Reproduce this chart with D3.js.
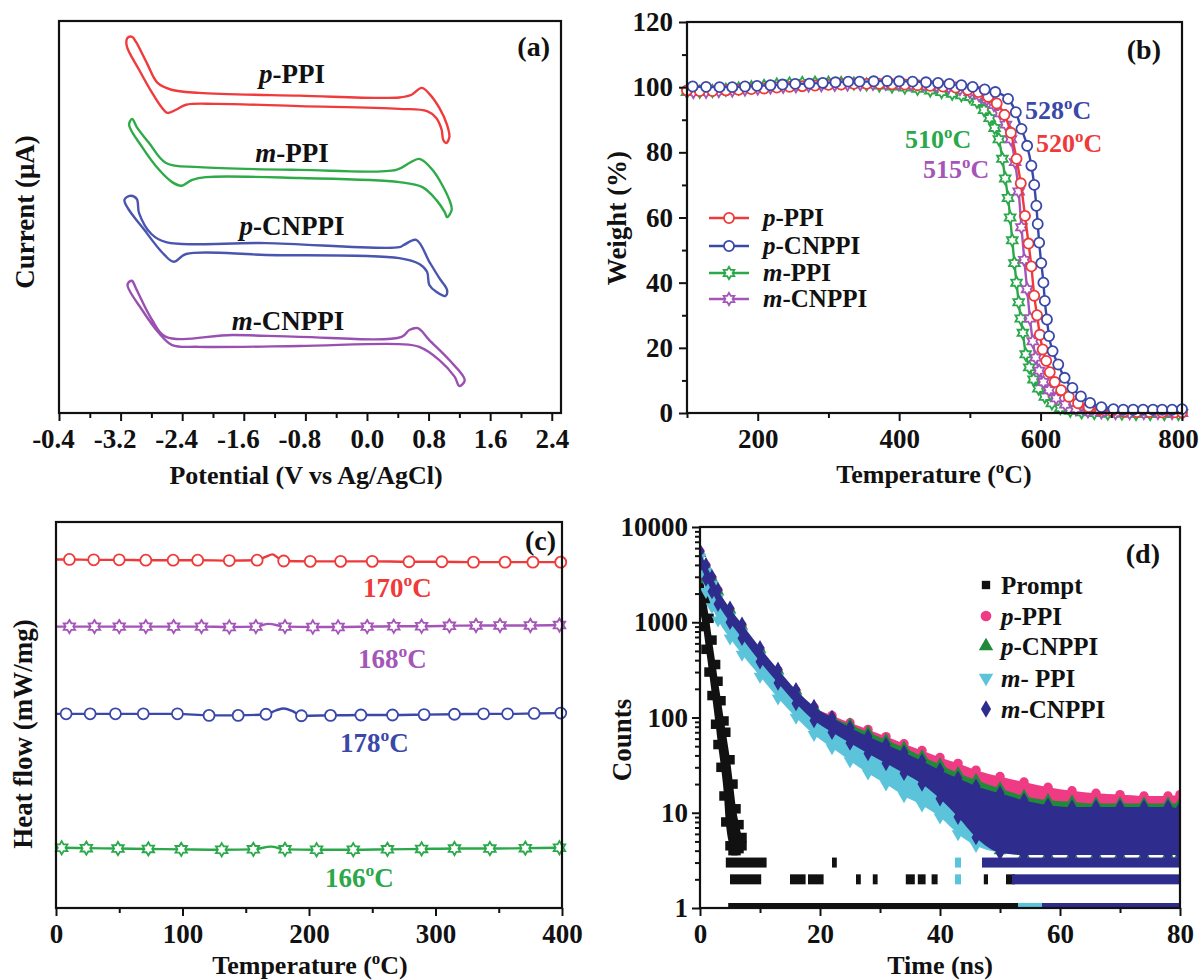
<!DOCTYPE html>
<meta charset="utf-8">
<script src="https://d3js.org/d3.v7.min.js"></script>
<style>
  body { margin: 0; background: #fff; }
  text { font-family: "Liberation Serif", "Times New Roman", serif; font-weight: bold; fill: #111; }
</style>
<div id="figure"></div>
<script>
// ---------- (a) cyclic voltammograms: [potential (V), current (a.u., stacked)]
const cvNames = ["*p*-PPI", "*m*-PPI", "*p*-CNPPI", "*m*-CNPPI"];
const cvColors = ["#f03a3c", "#2eaa48", "#4a55b0", "#9a50b0"];
const cvPPI = [[-3.11,96.5],[-3.12,94.7],[-2.96,89.5],[-2.79,84.4],[-2.67,81.3],[-2.59,80.0],[-2.48,80.7],[-2.35,81.8],[-1.96,82.0],[-0.88,81.5],[0.42,80.9],[0.78,80.4],[0.90,78.9],[0.97,76.3],[0.99,74.1],[1.03,73.4],[1.07,74.7],[1.04,77.4],[0.94,81.1],[0.81,84.2],[0.71,85.5],[0.58,84.0],[0.42,83.4],[-0.88,83.8],[-2.18,84.4],[-2.54,85.1],[-2.72,86.6],[-2.86,91.0],[-3.00,95.6],[-3.05,96.7]];
const cvMPPI = [[-3.05,78.7],[-3.09,77.4],[-2.92,72.5],[-2.70,67.5],[-2.53,64.8],[-2.41,64.0],[-2.27,65.3],[-2.09,65.9],[-0.88,65.7],[0.42,64.8],[0.72,63.7],[0.90,60.9],[1.01,58.2],[1.04,57.1],[1.10,58.7],[1.07,60.9],[0.85,67.5],[0.68,69.9],[0.55,69.0],[0.38,67.5],[-0.88,67.5],[-2.18,68.1],[-2.61,69.0],[-2.83,73.4],[-2.99,76.9]];
const cvPCN = [[-3.15,60.9],[-2.86,53.6],[-2.63,48.8],[-2.51,47.3],[-2.35,49.0],[-1.31,48.8],[0.42,48.1],[0.68,46.8],[0.78,45.1],[0.81,42.2],[0.90,40.7],[1.02,39.8],[1.04,41.1],[0.94,43.7],[0.81,47.3],[0.64,52.1],[0.48,51.0],[0.42,50.5],[-1.31,51.4],[-2.61,51.6],[-2.80,53.4],[-2.96,58.0],[-2.99,61.1],[-3.07,61.8]];
const cvMCN = [[-3.07,43.1],[-3.11,42.2],[-2.92,36.7],[-2.70,31.6],[-2.53,29.0],[-2.18,28.6],[-0.88,28.8],[0.42,29.2],[0.68,28.6],[0.94,25.7],[1.14,22.0],[1.20,20.0],[1.27,21.3],[1.07,25.7],[0.81,30.1],[0.66,32.7],[0.55,32.3],[0.45,30.8],[-0.88,30.8],[-1.75,31.2],[-2.61,30.8],[-2.79,34.5],[-2.99,41.1],[-3.05,43.1]];
const cvTicks = [-4.0, -3.2, -2.4, -1.6, -0.8, 0.0, 0.8, 1.6, 2.4];
const cvTickLabels = ["-0.4", "-3.2", "-2.4", "-1.6", "-0.8", "0.0", "0.8", "1.6", "2.4"];

// ---------- (b) TGA: temperature (C), weight (%)
const tgaNames = ["*p*-PPI", "*p*-CNPPI", "*m*-PPI", "*m*-CNPPI"];
const tgaColors = ["#ef3a3a", "#3a48a8", "#2aa84a", "#a555b8"];
const tgaT_pPPI = [100,118,136,155,173,191,209,227,245,263,281,300,318,336,354,372,390,408,426,444,462,480,497,512,526,538,549,558,566,572,578,583,587,591,595,599,603,608,613,620,629,640,653,668,684,701,718,736,754,772,790,800];
const tgaW_pPPI = [99,98.8,98.8,99,99.2,99.4,99.6,99.9,100.1,100.3,100.5,100.7,100.8,101,101,101,100.9,100.8,100.6,100.4,100.2,99.9,99.2,98.5,97,95,91.5,86,78,70.5,60.5,52,45,36,30,24,19.5,16,12.5,9.5,7,5,3,1.8,1,0.6,0.4,0.3,0.3,0.2,0.2,0.2];
const tgaT_pCN = [108,127,146,164,182,199,218,235,253,273,292,310,328,344,364,383,400,419,438,455,471,488,504,521,536,554,565,573,581,587,591,594,596,598,601,604,606,609,612,617,625,634,645,657,670,686,703,717,731,745,759,772,786,800];
const tgaW_pCN = [100.2,100.1,100,100,100.2,100.4,100.6,100.8,101,101.1,101.3,101.5,101.7,101.7,101.8,101.9,101.8,101.7,101.5,101.3,101,100.6,100.1,99.3,98.5,96.4,92.3,87.2,82,75.9,70,63.6,58,52.3,46,40,34.4,28.7,23.6,19,14.9,10.8,7.7,5.1,3.1,1.8,1.2,1,1,1,1,1,1,1.2];
const tgaT_mPPI = [100,118,136,155,173,191,209,227,245,263,281,300,318,336,354,372,390,408,426,444,460,475,488,500,510,520,528,535,541,546,550,554,557,560,563,566,569,572,575,579,584,590,597,606,616,628,642,658,676,695,715,735,755,775,795];
const tgaW_mPPI = [98.5,98.6,98.8,99.2,99.6,100,100.4,100.8,101.1,101.3,101.4,101.4,101.3,101.1,100.8,100.5,100.2,99.9,99.5,99,98.5,98,97.5,97,95.5,93,90.5,87.5,84,78,72,66,60,53,46,40,34,29,24.6,18,14,10.3,7.5,5,3,1.5,0.7,0.2,0,-0.2,-0.2,-0.3,-0.3,-0.3,-0.3];
const tgaT_mCN = [109,127,145,164,182,200,218,236,254,272,290,309,327,345,363,381,399,417,435,453,470,486,500,513,524,534,543,551,558,564,569,573,577,581,585,589,593,598,604,612,622,635,650,667,686,706,726,746,766,786,800];
const tgaW_mCN = [98.5,98.6,98.8,99,99.3,99.6,99.9,100.1,100.3,100.5,100.6,100.7,100.8,100.9,101,101,101,100.9,100.7,100.4,100,99.4,98.5,97.5,96.2,94.5,92,88.5,84,77,68,57,47,38,29,22,17,13,9.5,7,4.5,2.6,1.2,0.5,0.2,0,0,0,0,0,0];
const tgaNotes = ["528^oC", "520^oC", "510^oC", "515^oC"];

// ---------- (c) DSC: [temperature (C), heat flow (a.u., stacked), marker?]
const dscNotes = ["170^oC", "168^oC", "178^oC", "166^oC"];
const dscColors = ["#ef3a3a", "#a555b8", "#3a48a8", "#2aa84a"];
const dscPPI = [[0,90.3,0],[10.6,90.3,1],[29.8,90.2,1],[50,90.2,1],[71,90.1,1],[92.6,90.1,1],[112,90.1,1],[137,90.0,1],[159,90.1,1],[166,91.0,0],[171,91.6,0],[176,90.6,0],[180,89.9,1],[201,89.8,1],[225,89.8,1],[250,89.8,1],[279,89.7,1],[305,89.7,1],[330,89.6,1],[355,89.6,1],[377,89.6,1],[399,89.6,1]];
const dscMCN = [[0,72.9,0],[10.6,72.9,1],[30.4,72.9,1],[50,72.9,1],[71,72.9,1],[93,72.9,1],[115,72.9,1],[137,72.8,1],[158,72.9,1],[168,73.6,0],[181,72.9,1],[203,72.8,1],[223,72.8,1],[246,72.9,1],[267,73,1],[289,73,1],[311,73.1,1],[332,73.2,1],[351,73.2,1],[375,73.2,1],[398,73.3,1]];
const dscPCN = [[0,50.3,0],[8,50.3,1],[27,50.3,1],[47,50.3,1],[69,50.3,1],[96,50.3,1],[121,49.9,1],[144,49.9,1],[166,50.2,1],[174,51.2,0],[180,51.7,0],[187,51.0,0],[194,49.8,1],[217,49.9,1],[241,50,1],[266,50,1],[291,50.1,1],[315,50.2,1],[338,50.3,1],[357,50.3,1],[378,50.4,1],[399,50.5,1]];
const dscMPPI = [[0,15.6,0],[4.5,15.6,1],[24,15.5,1],[49,15.4,1],[73,15.3,1],[99,15.2,1],[131,15.1,1],[156,15.2,1],[170,15.9,0],[181,15.2,1],[206,15.1,1],[235,15.1,1],[262,15.2,1],[289,15.3,1],[315,15.4,1],[343,15.4,1],[371,15.5,1],[398,15.6,1]];

// ---------- (d) PL decay: time (ns), band of counts [low, high]
const decayNames = ["Prompt", "*p*-PPI", "*p*-CNPPI", "*m*- PPI", "*m*-CNPPI"];
const decayColors = ["#111111", "#ef3a84", "#1f8a3a", "#5cc4da", "#2e2c8c"];
const promptT  = [0, 0.5, 1, 1.5, 2, 2.6, 3, 3.5, 4, 4.3, 5, 5.5, 6, 6.5, 7];
const promptLo = [1300, 900, 520, 300, 170, 85, 52, 30, 15, 8, 4.5, 4, 4, 4.2, 4.5];
const promptHi = [3200, 2800, 1700, 1100, 650, 360, 240, 150, 92, 70, 36, 20, 11, 7.5, 5.5];
const decayT = [0, 1, 2, 3, 5, 7, 10, 13, 16, 19, 22, 25, 28, 31, 34, 37, 40, 43, 46, 50, 54, 58, 62, 66, 70, 74, 78, 80];
const pinkHi  = [5500,3900,2900,2150,1350,920,520,310,190,128,105,88,75,63,53,45,38,33,28,24,21,18.5,17,16,15.5,15,15,15.5];
const pinkLo  = [4000,2800,2050,1500,980,660,380,225,138,92,72,58,47,38,31,26,21.5,18,15.5,13,11.5,10.5,9.5,9,9,8.5,8.5,8.5];
const greenHi = [5300,3800,2850,2100,1350,900,520,310,190,128,100,84,70,58,48,39,32,26,22,18,15,13.5,13,12.5,12.5,12.5,12.5,12.5];
const greenLo = [4000,2800,2050,1500,980,660,380,225,138,92,70,54,42,33,26,20,14,9,5.5,4,3.6,3.6,3.6,3.6,3.6,3.6,3.6,3.6];
const cyanHi  = [4800,3400,2500,1800,1150,780,440,265,160,108,80,62,48,38,31,25,20,16,13,11,10,9.5,9.5,9.5,9.5,9.5,9.5,9.5];
const cyanLo  = [3300,2100,1450,1050,680,460,270,160,100,66,48,35,26,20,15,12,9,6,4.5,3.8,3.6,3.6,3.6,3.6,3.6,3.6,3.6,3.6];
const navyHi  = [5600,4000,3000,2200,1400,950,540,320,195,130,100,78,63,52,43,35,28,23,19,16,13.5,12,11.5,11.5,11.5,11.5,11.5,11];
const navyLo  = [4000,2850,2100,1550,1000,680,385,230,140,93,70,54,42,33,26,20,14,9,5.5,3.8,3.6,3.6,3.6,3.6,3.6,3.6,3.6,3.6];
// single-count rows at the noise floor: [series index, counts, t start, t end]
const countRows = [
  [0,3,4.3,11.1],[0,3,22,22.8],[0,2,5,10.2],[0,2,15,17.6],[0,2,18,20.6],[0,2,26,26.8],[0,2,28.8,29.6],
  [0,2,34.3,35.8],[0,2,36.3,37.6],[0,2,38.6,39.6],[0,2,47.3,48],[0,2,51,52.5],[0,1,4.7,53.5],
  [3,3,42.5,43.5],[3,2,42.5,43.5],[3,1,53,80],[2,1,55,80],
  [4,3,47,80],[4,2,52,80],[4,1,57,80]
];

// ================= drawing =================
const ink = "#111";
const svg = d3.select("#figure").append("svg").attr("width", 1200).attr("height", 980);

function rich(sel, str, size) {
  // *x* = italic, ^x = superscript character
  const parts = str.split(/(\*[^*]+\*|\^.)/).filter(s => s);
  let up = false;
  parts.forEach(p => {
    const t = sel.append("tspan");
    if (p[0] === "*") t.style("font-style", "italic").text(p.slice(1, -1));
    else if (p[0] === "^") {
      t.attr("dy", -size * 0.4).style("font-size", (size * 0.65) + "px").text(p.slice(1));
      up = true; return;
    } else t.text(p);
    if (up) { t.attr("dy", size * 0.4); up = false; }
  });
  return sel;
}
function label(x, y, str, size, color, anchor, rot) {
  const t = svg.append("text").attr("x", x).attr("y", y)
    .style("font-size", size + "px").style("fill", color || ink)
    .attr("text-anchor", anchor || "start");
  if (rot) t.attr("transform", `rotate(-90,${x},${y})`);
  return rich(t, str, size);
}
function frame(x0, y0, x1, y1) {
  svg.append("rect").attr("x", x0).attr("y", y0).attr("width", x1 - x0).attr("height", y1 - y0)
    .attr("fill", "none").attr("stroke", ink).attr("stroke-width", 2.2);
}
function axis(gen, tx, ty) {
  const g = svg.append("g").attr("transform", `translate(${tx},${ty})`).call(gen);
  g.attr("font-family", null).attr("font-size", null);
  g.select(".domain").remove();
  g.selectAll("line").attr("stroke", ink).attr("stroke-width", 2);
  g.selectAll("text").style("font-size", "27px").style("fill", ink);
  return g;
}
const hexagram = {
  draw(ctx, size) {
    const r = Math.sqrt(size), ri = r / Math.sqrt(3);
    for (let k = 0; k < 12; k++) {
      const a = Math.PI / 6 * k - Math.PI / 2, rr = k % 2 ? ri : r;
      k ? ctx.lineTo(rr * Math.cos(a), rr * Math.sin(a)) : ctx.moveTo(rr * Math.cos(a), rr * Math.sin(a));
    }
    ctx.closePath();
  }
};

// ---------- panel (a)
{
  const L = 59, R = 561, T = 21, B = 413;
  const x = d3.scaleLinear().domain([-4.0, 2.52]).range([L, R]);
  const y = d3.scaleLinear().domain([14.07, 100.2]).range([B, T]);
  const loop = d3.line().x(d => x(d[0])).y(d => y(d[1])).curve(d3.curveCatmullRomClosed.alpha(0.5));
  [cvPPI, cvMPPI, cvPCN, cvMCN].forEach((s, i) => {
    svg.append("path").attr("d", loop(s)).attr("fill", "none")
      .attr("stroke", cvColors[i]).attr("stroke-width", 2.4);
  });
  [[292, 83], [292, 162], [292, 235], [288, 330]].forEach((p, i) => label(p[0], p[1], cvNames[i], 27, ink, "middle"));
  const minor = d3.range(-3.6, 2.5, 0.8);
  axis(d3.axisBottom(x).tickValues(minor).tickSize(5).tickFormat(""), 0, B);
  const xa = axis(d3.axisBottom(x).tickValues(cvTicks).tickSize(8).tickPadding(8)
    .tickFormat((d, i) => cvTickLabels[i]), 0, B);
  // the minus sign hangs to the left of the centred digits
  xa.selectAll("text").filter(d => d < 0).attr("dx", -6);
  frame(L, T, R, B);
  label(550, 56, "(a)", 28, ink, "end");
  label(306, 484, "Potential (V vs Ag/AgCl)", 26, ink, "middle");
  label(34, 212, "Current (μA)", 27, ink, "middle", true);
}

// ---------- panel (b)
{
  const L = 687, R = 1182, T = 22, B = 413;
  const x = d3.scaleLinear().domain([100, 800]).range([L, R]);
  const y = d3.scaleLinear().domain([0, 120]).range([B, T]);
  const line = d3.line().x(d => x(d[0])).y(d => y(d[1])).curve(d3.curveMonotoneX);
  const series = [
    [tgaT_pPPI, tgaW_pPPI, d3.symbolCircle],
    [tgaT_pCN, tgaW_pCN, d3.symbolCircle],
    [tgaT_mPPI, tgaW_mPPI, hexagram],
    [tgaT_mCN, tgaW_mCN, hexagram]
  ];
  const order = [2, 3, 0, 1];
  order.forEach(i => {
    const [ts, ws, sym] = series[i];
    const pts = ts.map((t, k) => [t, ws[k]]);
    svg.append("path").attr("d", line(pts)).attr("fill", "none")
      .attr("stroke", tgaColors[i]).attr("stroke-width", 2.4);
    svg.append("g").selectAll("path").data(pts).join("path")
      .attr("transform", d => `translate(${x(d[0])},${y(d[1])})`)
      .attr("d", d3.symbol().type(sym).size(sym === hexagram ? 38 : 80))
      .attr("fill", "#fff").attr("stroke", tgaColors[i]).attr("stroke-width", 1.8);
  });
  axis(d3.axisLeft(y).tickValues(d3.range(10, 120, 20)).tickSize(5).tickFormat(""), L, 0);
  axis(d3.axisLeft(y).tickValues(d3.range(0, 121, 20)).tickSize(8).tickPadding(6), L, 0);
  axis(d3.axisBottom(x).tickValues([100, 300, 500, 700]).tickSize(5).tickFormat(""), 0, B);
  const xb = axis(d3.axisBottom(x).tickValues([200, 400, 600, 800]).tickSize(8).tickPadding(8), 0, B);
  xb.selectAll("text").filter(d => d === 800).attr("dx", -4);
  frame(L, T, R, B);
  // legend
  const legY = [218, 246, 273, 299];
  legY.forEach((ly, i) => {
    const sym = series[i][2];
    svg.append("line").attr("x1", 709).attr("x2", 749).attr("y1", ly).attr("y2", ly)
      .attr("stroke", tgaColors[i]).attr("stroke-width", 2.6);
    svg.append("path").attr("transform", `translate(729,${ly})`)
      .attr("d", d3.symbol().type(sym).size(sym === hexagram ? 38 : 80))
      .attr("fill", "#fff").attr("stroke", tgaColors[i]).attr("stroke-width", 1.8);
    label(763, ly + 8, tgaNames[i], 25);
  });
  label(1025, 119, tgaNotes[0], 26, tgaColors[1]);
  label(1036, 152, tgaNotes[1], 26, tgaColors[0]);
  label(905, 148, tgaNotes[2], 26, tgaColors[2]);
  label(923, 178, tgaNotes[3], 26, tgaColors[3]);
  label(1161, 59, "(b)", 28, ink, "end");
  label(934, 483, "Temperature (^oC)", 26, ink, "middle");
  label(626, 218, "Weight (%)", 27, ink, "middle", true);
}

// ---------- panel (c)
{
  const L = 56, R = 562, T = 522, B = 908;
  const x = d3.scaleLinear().domain([0, 400]).range([L, R]);
  const y = d3.scaleLinear().domain([0, 100]).range([B, T]);
  const line = d3.line().x(d => x(d[0])).y(d => y(d[1])).curve(d3.curveMonotoneX);
  const syms = [d3.symbolCircle, hexagram, d3.symbolCircle, hexagram];
  [dscPPI, dscMCN, dscPCN, dscMPPI].forEach((s, i) => {
    svg.append("path").attr("d", line(s)).attr("fill", "none")
      .attr("stroke", dscColors[i]).attr("stroke-width", 2.4);
    svg.append("g").selectAll("path").data(s.filter(d => d[2])).join("path")
      .attr("transform", d => `translate(${x(d[0])},${y(d[1])})`)
      .attr("d", d3.symbol().type(syms[i]).size(syms[i] === hexagram ? 44 : 95))
      .attr("fill", "#fff").attr("stroke", dscColors[i]).attr("stroke-width", 1.8);
  });
  [[363, 597], [358, 668], [340, 752], [325, 887]].forEach((p, i) => label(p[0], p[1], dscNotes[i], 27, dscColors[i]));
  axis(d3.axisBottom(x).tickValues([50, 150, 250, 350]).tickSize(5).tickFormat(""), 0, B);
  axis(d3.axisBottom(x).tickValues([0, 100, 200, 300, 400]).tickSize(8).tickPadding(8), 0, B);
  frame(L, T, R, B);
  label(556, 550, "(c)", 28, ink, "end");
  label(310, 974, "Temperature (^oC)", 26, ink, "middle");
  label(32, 734, "Heat flow (mW/mg)", 27, ink, "middle", true);
}

// ---------- panel (d)
{
  const L = 700, R = 1180, T = 527, B = 908;
  const x = d3.scaleLinear().domain([0, 80]).range([L, R]);
  const y = d3.scaleLog().domain([1, 10000]).range([B, T]);
  svg.append("clipPath").attr("id", "clipd").append("rect")
    .attr("x", L).attr("y", T).attr("width", R - L).attr("height", B - T);
  const g = svg.append("g").attr("clip-path", "url(#clipd)");
  const area = d3.area().x(d => x(d[0])).y0(d => y(d[1])).y1(d => y(d[2])).curve(d3.curveMonotoneX);
  const syms = [d3.symbolSquare, d3.symbolCircle, d3.symbolTriangle, d3.symbolTriangle, d3.symbolDiamond];
  const bands = [
    promptT.map((t, k) => [t, promptLo[k], promptHi[k]]),
    decayT.map((t, k) => [t, pinkLo[k], pinkHi[k]]),
    decayT.map((t, k) => [t, greenLo[k], greenHi[k]]),
    decayT.map((t, k) => [t, cyanLo[k], cyanHi[k]]),
    decayT.map((t, k) => [t, navyLo[k], navyHi[k]])
  ];
  bands.forEach((b, i) => {
    g.append("path").attr("d", area(b)).attr("fill", decayColors[i]);
    const edge = b.flatMap(d => [[d[0], d[1]], [d[0], d[2]]]);
    g.append("g").selectAll("path").data(edge).join("path")
      .attr("transform", d => `translate(${x(d[0])},${y(d[1])})` + (i === 3 ? " rotate(180)" : ""))
      .attr("d", d3.symbol().type(syms[i]).size(i === 0 ? 90 : 70)).attr("fill", decayColors[i]);
    g.append("g").selectAll("rect").data(countRows.filter(r => r[0] === i)).join("rect")
      .attr("x", r => x(r[2])).attr("width", r => x(r[3]) - x(r[2]))
      .attr("y", r => y(r[1]) - 5).attr("height", 10).attr("fill", decayColors[i]);
  });
  const minorY = [1, 10, 100, 1000].flatMap(d => d3.range(2, 10).map(m => d * m));
  axis(d3.axisLeft(y).tickValues(minorY).tickSize(5).tickFormat(""), L, 0);
  axis(d3.axisLeft(y).tickValues([1, 10, 100, 1000, 10000]).tickSize(8).tickPadding(4).tickFormat(d => d), L, 0);
  axis(d3.axisBottom(x).tickValues([10, 30, 50, 70]).tickSize(5).tickFormat(""), 0, B);
  axis(d3.axisBottom(x).tickValues([0, 20, 40, 60, 80]).tickSize(8).tickPadding(8), 0, B);
  frame(L, T, R, B);
  const legY = [585, 616, 646, 678, 709];
  legY.forEach((ly, i) => {
    svg.append("path").attr("transform", `translate(986,${ly})` + (i === 3 ? " rotate(180)" : ""))
      .attr("d", d3.symbol().type(syms[i]).size(i === 0 ? 70 : 90)).attr("fill", decayColors[i]);
    label(1001, ly + 9, decayNames[i], 25);
  });
  label(1160, 563, "(d)", 28, ink, "end");
  label(940, 974, "Time (ns)", 26, ink, "middle");
  label(631, 740, "Counts", 27, ink, "middle", true);
}
</script>
